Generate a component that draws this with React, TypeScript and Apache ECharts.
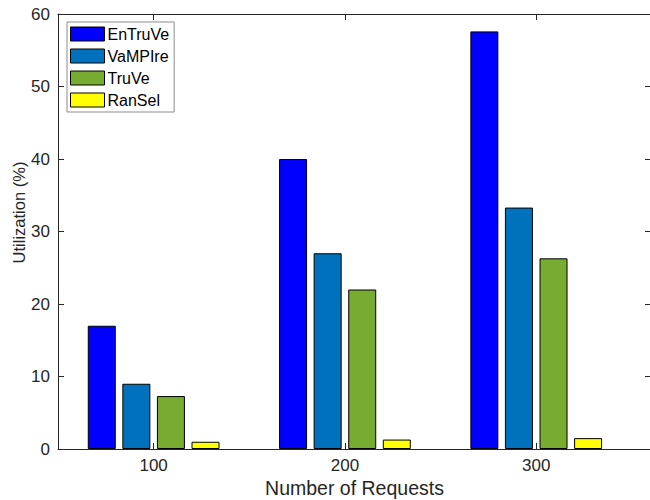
import React, { useEffect, useRef } from "react";
import * as echarts from "echarts";

const categories = [100, 200, 300];
const seriesNames = ["EnTruVe", "VaMPIre", "TruVe", "RanSel"];
const enTruVe = [17, 40, 57.6];
const vaMPIre = [9, 27, 33.3];
const truVe = [7.3, 22, 26.3];
const ranSel = [1, 1.3, 1.5];
const seriesValues = [enTruVe, vaMPIre, truVe, ranSel];
const colors = ["#0000FF", "#0072BD", "#77AC30", "#FFFF00"];

const FONT = "'Liberation Sans', Arial, Helvetica, sans-serif";
const AXIS_COLOR = "#262626";

export default function App() {
  const ref = useRef<HTMLDivElement>(null);
  useEffect(() => {
    if (!ref.current) return;
    const chart = echarts.init(ref.current, null, { renderer: "svg" });
    const axisLine = { show: true, onZero: false, lineStyle: { color: AXIS_COLOR, width: 1 } };
    chart.setOption({
      animation: false,
      backgroundColor: "#ffffff",
      textStyle: { fontFamily: FONT },
      grid: { left: 58, top: 14, width: 593, height: 435, containLabel: false, outerBoundsMode: "none" },
      legend: {
        orient: "vertical",
        left: 67,
        top: 22,
        padding: [4, 5, 4, 3],
        backgroundColor: "#ffffff",
        borderColor: "#8c8c8c",
        borderWidth: 1,
        borderRadius: 0,
        icon: "rect",
        itemWidth: 34,
        itemHeight: 14,
        itemGap: 6,
        itemStyle: { borderColor: "#000", borderWidth: 1 },
        textStyle: { fontSize: 16, color: "#000", fontFamily: FONT, lineHeight: 14, padding: [0, 0, 0, -2] },
        data: seriesNames,
      },
      xAxis: [
        {
          type: "value",
          min: 50,
          max: 360,
          position: "bottom",
          axisLine,
          axisTick: { show: true, inside: true, length: 6, customValues: categories, lineStyle: { color: AXIS_COLOR } },
          axisLabel: { show: true, customValues: categories, fontSize: 17, color: AXIS_COLOR, margin: 8, fontFamily: FONT },
          splitLine: { show: false },
          name: "Number of Requests",
          nameLocation: "middle",
          nameGap: 29,
          nameMoveOverlap: false,
          nameTextStyle: { fontSize: 19.5, color: AXIS_COLOR, fontFamily: FONT },
        },
        {
          type: "value",
          min: 50,
          max: 360,
          position: "top",
          axisLine,
          axisTick: { show: true, inside: true, length: 6, customValues: categories, lineStyle: { color: AXIS_COLOR } },
          axisLabel: { show: false },
          splitLine: { show: false },
        },
      ],
      yAxis: [
        {
          type: "value",
          min: 0,
          max: 60,
          interval: 10,
          position: "left",
          axisLine,
          axisTick: { show: true, inside: true, length: 6, lineStyle: { color: AXIS_COLOR } },
          axisLabel: { fontSize: 17, color: AXIS_COLOR, margin: 8, fontFamily: FONT },
          splitLine: { show: false },
          name: "Utilization (%)",
          nameLocation: "middle",
          nameGap: 31,
          nameMoveOverlap: false,
          nameTextStyle: { fontSize: 16.5, color: AXIS_COLOR, fontFamily: FONT, padding: [0, 0, 0, 38] },
        },
        {
          type: "value",
          min: 0,
          max: 60,
          interval: 10,
          position: "right",
          axisLine,
          axisTick: { show: true, inside: true, length: 6, lineStyle: { color: AXIS_COLOR } },
          axisLabel: { show: false },
          splitLine: { show: false },
        },
      ],
      series: seriesNames.map((name, si) => ({
        name,
        type: "bar",
        xAxisIndex: 0,
        yAxisIndex: 0,
        barWidth: 28,
        barGap: "23.5%",
        itemStyle: { color: colors[si], borderColor: "#000", borderWidth: 1 },
        data: categories.map((c, i) => [c, seriesValues[si][i]]),
      })),
    });
    return () => chart.dispose();
  }, []);
  return (
    <div
      ref={ref}
      style={{ position: "absolute", left: 0, top: 0, width: 650, height: 500 }}
    />
  );
}
